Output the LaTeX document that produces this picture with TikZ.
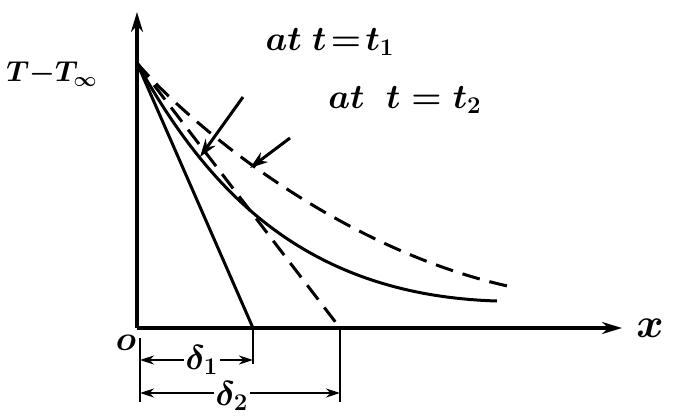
\documentclass[tikz,border=0pt]{standalone}
\usetikzlibrary{arrows.meta,calc}

\begin{document}
\begin{tikzpicture}[
    x=0.5pt, y=-0.5pt,
    axis/.style={line width=1.6pt, -{Stealth[length=10pt, width=6pt]}},
    profile/.style={line width=1.5pt},
    dashprofile/.style={line width=1.5pt, dash pattern=on 9pt off 5pt},
    dimline/.style={line width=1.1pt, {Stealth[length=7pt, width=4.5pt]}-{Stealth[length=7pt, width=4.5pt]}},
    tick/.style={line width=1.1pt},
    pointer/.style={line width=1.5pt, -{Stealth[length=9pt, width=6pt]}},
    lbl/.style={font=\LARGE\boldmath, inner sep=1pt},
]
\useasboundingbox (0,0) rectangle (674,418);

% Axes and the points on them
\coordinate (O) at (137,328);
\coordinate (ytop) at (137,12);
\coordinate (xend) at (622,328);
\coordinate (s) at (137,63);
\coordinate (d1) at (253,328);
\coordinate (d2) at (340,328);
\draw[axis] (O) -- (ytop);
\draw[axis] (O) -- (xend);
\node[lbl, font=\huge\boldmath] (xlabel) at (650,328) {$x$};
\node[lbl] (olabel) at (126,343) {$o$};
\node[font=\Large\boldmath] (ylabel) at (52,74) {$T{-}T_\infty$};

% Profiles: straight approximations and curves
\coordinate (c1end) at (497,301);
\coordinate (c2end) at (512,287);
\draw[profile] (s) -- (d1);
\draw[dashprofile] (s) -- (d2);
\draw[profile] (s) .. controls (205,185) and (300,295) .. (c1end);
\draw[dashprofile] (s) .. controls (190,125) and (340,250) .. (c2end);

% Time labels with pointers
\node[lbl] (t1) at (330,42) {$at\ t\!=\!t_1$};
\node[lbl] (t2) at (405,100) {$at\;\ t=t_2$};
\coordinate (t1tail) at (243,97);
\coordinate (t1tip) at (200,157);
\coordinate (t2tail) at (290,138);
\coordinate (t2tip) at (250,168);
\draw[pointer] (t1tail) -- (t1tip);
\draw[pointer] (t2tail) -- (t2tip);

% Penetration depths
\coordinate (k0a) at (140,338);
\coordinate (k0b) at (140,402);
\coordinate (k1b) at (253,364);
\coordinate (k2b) at (340,402);
\draw[tick] (k0a) -- (k0b);
\draw[tick] (d1) -- (k1b);
\draw[tick] (d2) -- (k2b);
\coordinate (a1l) at (140,360);
\coordinate (a1r) at (253,360);
\coordinate (a2l) at (140,393);
\coordinate (a2r) at (340,393);
\draw[dimline] (a1l) -- (a1r);
\draw[dimline] (a2l) -- (a2r);
\node[lbl, fill=white] (delta1) at (202,360) {$\delta_1$};
\node[lbl, fill=white] (delta2) at (232,396) {$\delta_2$};

\end{tikzpicture}
\end{document}
